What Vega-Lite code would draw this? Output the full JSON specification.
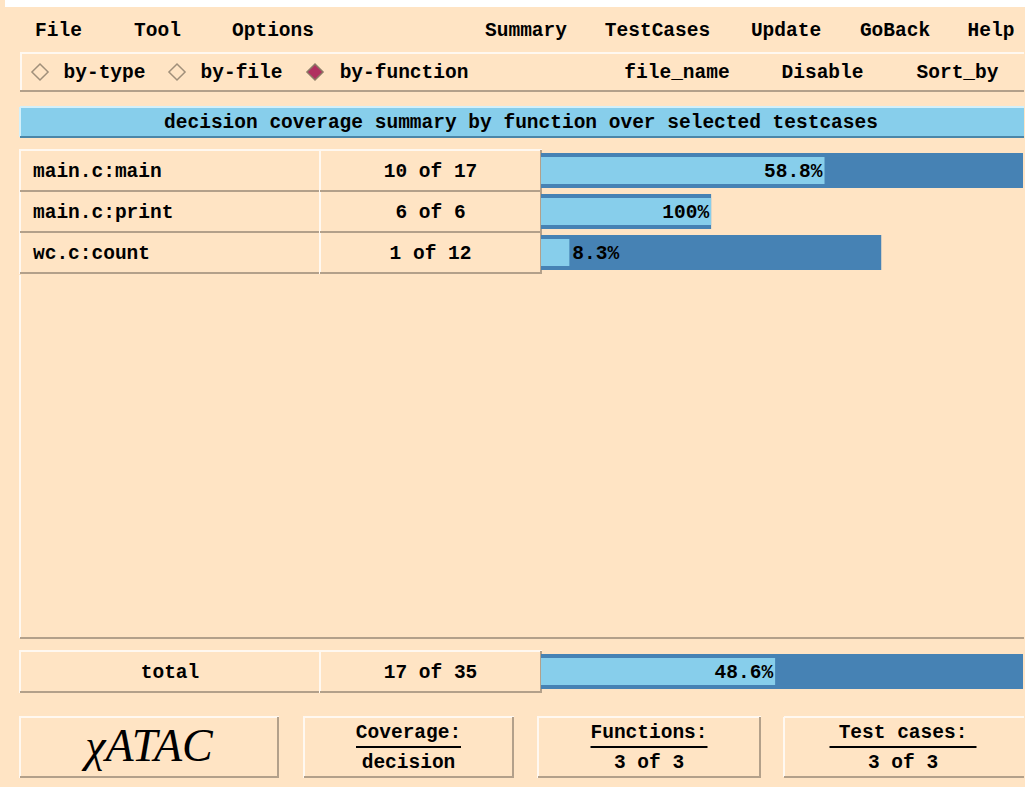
{
  "$schema": "https://vega.github.io/schema/vega-lite/v6.json",
  "background": "#FFE4C4",
  "padding": {"left": 5, "top": 0, "right": 0, "bottom": 9},
  "spacing": 0,
  "config": {
    "view": {"stroke": null},
    "concat": {"spacing": 0},
    "text": {"font": "Liberation Mono", "fontSize": 19.5, "fontWeight": "bold", "color": "#000000"}
  },
  "datasets": {
    "funcs": [
      {"func": "main.c:main", "covered": 10, "total": 17, "ratio": "10 of 17", "pct": "58.8%"},
      {"func": "main.c:print", "covered": 6, "total": 6, "ratio": "6 of 6", "pct": "100%"},
      {"func": "wc.c:count", "covered": 1, "total": 12, "ratio": "1 of 12", "pct": "8.3%"}
    ],
    "total": [
      {"func": "total", "covered": 17, "total": 35, "ratio": "17 of 35", "pct": "48.6%"}
    ]
  },
  "vconcat": [
    {"width": 1020, "height": 7, "data": {"values": []}, "mark": "point", "view": {"fill": "#FFFFFF"}},
    {
      "bounds": "flush",
      "hconcat": [
        {"width": 15, "height": 45, "data": {"values": []}, "mark": "point"},
        {"width": 77, "height": 45, "data": {"values": [{"menu": "File"}]}, "mark": "text", "encoding": {"text": {"field": "menu", "type": "nominal"}}},
        {"width": 121, "height": 45, "data": {"values": [{"menu": "Tool"}]}, "mark": "text", "encoding": {"text": {"field": "menu", "type": "nominal"}}},
        {"width": 110, "height": 45, "data": {"values": [{"menu": "Options"}]}, "mark": "text", "encoding": {"text": {"field": "menu", "type": "nominal"}}},
        {"width": 122, "height": 45, "data": {"values": []}, "mark": "point"},
        {"width": 152, "height": 45, "data": {"values": [{"menu": "Summary"}]}, "mark": "text", "encoding": {"text": {"field": "menu", "type": "nominal"}}},
        {"width": 111, "height": 45, "data": {"values": [{"menu": "TestCases"}]}, "mark": "text", "encoding": {"text": {"field": "menu", "type": "nominal"}}},
        {"width": 146, "height": 45, "data": {"values": [{"menu": "Update"}]}, "mark": "text", "encoding": {"text": {"field": "menu", "type": "nominal"}}},
        {"width": 72, "height": 45, "data": {"values": [{"menu": "GoBack"}]}, "mark": "text", "encoding": {"text": {"field": "menu", "type": "nominal"}}},
        {"width": 29, "height": 45, "data": {"values": []}, "mark": "point"},
        {"width": 62, "height": 45, "data": {"values": [{"menu": "Help"}]}, "mark": "text", "encoding": {"text": {"field": "menu", "type": "nominal"}}}
      ]
    },
    {
      "hconcat": [
        {"width": 15, "height": 40, "data": {"values": []}, "mark": "point"},
        {
          "vconcat": [
            {"width": 1004, "height": 2, "data": {"values": []}, "mark": "point", "view": {"fill": "#FFF8F0"}},
            {
              "bounds": "flush",
              "hconcat": [
                {"width": 2, "height": 36, "data": {"values": []}, "mark": "point", "view": {"fill": "#FFF8F0"}},
                {"width": 10, "height": 36, "data": {"values": []}, "mark": "point"},
                {"width": 16, "height": 36, "data": {"values": [{"mode": "by-type"}]}, "mark": {"type": "point", "shape": "diamond", "size": 260, "filled": true, "fill": "#FFE4C4", "stroke": "#A08F7A", "strokeWidth": 1.5, "opacity": 1}, "encoding": {}},
                {"width": 15, "height": 36, "data": {"values": []}, "mark": "point"},
                {"width": 83, "height": 36, "data": {"values": [{"mode": "by-type"}]}, "mark": "text", "encoding": {"text": {"field": "mode", "type": "nominal"}}},
                {"width": 23, "height": 36, "data": {"values": []}, "mark": "point"},
                {"width": 16, "height": 36, "data": {"values": [{"mode": "by-file"}]}, "mark": {"type": "point", "shape": "diamond", "size": 260, "filled": true, "fill": "#FFE4C4", "stroke": "#A08F7A", "strokeWidth": 1.5, "opacity": 1}, "encoding": {}},
                {"width": 15, "height": 36, "data": {"values": []}, "mark": "point"},
                {"width": 83, "height": 36, "data": {"values": [{"mode": "by-file"}]}, "mark": "text", "encoding": {"text": {"field": "mode", "type": "nominal"}}},
                {"width": 24, "height": 36, "data": {"values": []}, "mark": "point"},
                {"width": 16, "height": 36, "data": {"values": [{"mode": "by-function"}]}, "mark": {"type": "point", "shape": "diamond", "size": 260, "filled": true, "fill": "#B03060", "stroke": "#8C7A66", "strokeWidth": 1.5, "opacity": 1}, "encoding": {}},
                {"width": 15, "height": 36, "data": {"values": []}, "mark": "point"},
                {"width": 132, "height": 36, "data": {"values": [{"mode": "by-function"}]}, "mark": "text", "encoding": {"text": {"field": "mode", "type": "nominal"}}},
                {"width": 154, "height": 36, "data": {"values": []}, "mark": "point"},
                {"width": 106, "height": 36, "data": {"values": [{"button": "file_name"}]}, "mark": "text", "encoding": {"text": {"field": "button", "type": "nominal"}}},
                {"width": 51, "height": 36, "data": {"values": []}, "mark": "point"},
                {"width": 83, "height": 36, "data": {"values": [{"button": "Disable"}]}, "mark": "text", "encoding": {"text": {"field": "button", "type": "nominal"}}},
                {"width": 52, "height": 36, "data": {"values": []}, "mark": "point"},
                {"width": 83, "height": 36, "data": {"values": [{"button": "Sort_by"}]}, "mark": "text", "encoding": {"text": {"field": "button", "type": "nominal"}}},
                {"width": 25, "height": 36, "data": {"values": []}, "mark": "point"}
              ]
            },
            {"width": 1004, "height": 2, "data": {"values": []}, "mark": "point", "view": {"fill": "#B3A08A"}}
          ]
        }
      ]
    },
    {"width": 1017, "height": 14, "data": {"values": []}, "mark": "point"},
    {
      "bounds": "flush",
      "hconcat": [
        {"width": 15, "height": 30, "data": {"values": []}, "mark": "point"},
        {
          "width": 1004, "height": 30, "view": {"fill": "#87CEEB"},
          "layer": [
            {"data": {"values": [{}]}, "mark": {"type": "rect", "fill": "transparent", "stroke": "#D4F0FA", "strokeWidth": 2, "strokeDash": [1004, 1034, 30, 0]}},
            {"data": {"values": [{}]}, "mark": {"type": "rect", "fill": "transparent", "stroke": "#4A86A8", "strokeWidth": 2, "strokeDash": [0, 1034, 1004, 30]}},
            {"data": {"values": [{"title": "decision coverage summary by function over selected testcases"}]}, "mark": {"type": "text", "dx": -1}, "encoding": {"text": {"field": "title", "type": "nominal"}}}
          ]
        }
      ]
    },
    {"width": 1017, "height": 11, "data": {"values": []}, "mark": "point"},
    {
      "bounds": "flush",
      "hconcat": [
        {"width": 15, "height": 123, "data": {"values": []}, "mark": "point"},
        {
          "width": 300, "height": 123, "data": {"name": "funcs"},
          "encoding": {"y": {"field": "func", "type": "nominal", "sort": null, "axis": null, "scale": {"paddingInner": 0, "paddingOuter": 0}}},
          "layer": [
            {"mark": {"type": "rect", "fill": "transparent", "stroke": "#FFF8F0", "strokeWidth": 2}},
            {"mark": {"type": "rect", "fill": "transparent", "stroke": "#B3A08A", "strokeWidth": 2, "strokeDash": [0, 300, 341, 41]}},
            {"mark": {"type": "text", "align": "left", "dx": -137}, "encoding": {"text": {"field": "func", "type": "nominal"}}}
          ]
        },
        {
          "width": 221, "height": 123, "data": {"name": "funcs"},
          "encoding": {"y": {"field": "func", "type": "nominal", "sort": null, "axis": null, "scale": {"paddingInner": 0, "paddingOuter": 0}}},
          "layer": [
            {"mark": {"type": "rect", "fill": "transparent", "stroke": "#FFF8F0", "strokeWidth": 2}},
            {"mark": {"type": "rect", "fill": "transparent", "stroke": "#B3A08A", "strokeWidth": 2, "strokeDash": [0, 221, 262, 41]}},
            {"mark": "text", "encoding": {"text": {"field": "ratio", "type": "nominal"}}}
          ]
        },
        {
          "width": 482, "height": 123, "data": {"name": "funcs"},
          "encoding": {"y": {"field": "func", "type": "nominal", "sort": null, "axis": null, "scale": {"paddingInner": 0.146, "paddingOuter": 0.073}}},
          "layer": [
            {"mark": {"type": "bar", "color": "#4682B4"}, "encoding": {"x": {"field": "total", "type": "quantitative", "axis": null, "scale": {"domain": [0, 17], "nice": false}}}},
            {"mark": {"type": "bar", "color": "#87CEEB", "height": {"band": 0.77}}, "encoding": {"x": {"field": "covered", "type": "quantitative", "axis": null, "scale": {"domain": [0, 17], "nice": false}}}},
            {"transform": [{"filter": "datum.covered >= 3"}], "mark": {"type": "text", "align": "right", "dx": -2}, "encoding": {"x": {"field": "covered", "type": "quantitative", "axis": null, "scale": {"domain": [0, 17], "nice": false}}, "text": {"field": "pct", "type": "nominal"}}},
            {"transform": [{"filter": "datum.covered < 3"}], "mark": {"type": "text", "align": "left", "dx": 3}, "encoding": {"x": {"field": "covered", "type": "quantitative", "axis": null, "scale": {"domain": [0, 17], "nice": false}}, "text": {"field": "pct", "type": "nominal"}}}
          ]
        }
      ]
    },
    {
      "bounds": "flush",
      "hconcat": [
        {"width": 15, "height": 363, "data": {"values": []}, "mark": "point"},
        {
          "width": 1004, "height": 363, "data": {"values": [{}]},
          "layer": [
            {"mark": {"type": "rect", "fill": "transparent", "stroke": "#FFF8F0", "strokeWidth": 2, "strokeDash": [0, 2371, 363, 0]}},
            {"mark": {"type": "rect", "fill": "transparent", "stroke": "#B3A08A", "strokeWidth": 2, "strokeDash": [0, 1367, 1004, 363]}}
          ]
        }
      ]
    },
    {"width": 1017, "height": 11, "data": {"values": []}, "mark": "point"},
    {
      "bounds": "flush",
      "hconcat": [
        {"width": 15, "height": 41, "data": {"values": []}, "mark": "point"},
        {
          "width": 300, "height": 41, "data": {"name": "total"},
          "layer": [
            {"mark": {"type": "rect", "fill": "transparent", "stroke": "#FFF8F0", "strokeWidth": 2}},
            {"mark": {"type": "rect", "fill": "transparent", "stroke": "#B3A08A", "strokeWidth": 2, "strokeDash": [0, 300, 341, 41]}},
            {"mark": "text", "encoding": {"text": {"field": "func", "type": "nominal"}}}
          ]
        },
        {
          "width": 221, "height": 41, "data": {"name": "total"},
          "layer": [
            {"mark": {"type": "rect", "fill": "transparent", "stroke": "#FFF8F0", "strokeWidth": 2}},
            {"mark": {"type": "rect", "fill": "transparent", "stroke": "#B3A08A", "strokeWidth": 2, "strokeDash": [0, 221, 262, 41]}},
            {"mark": "text", "encoding": {"text": {"field": "ratio", "type": "nominal"}}}
          ]
        },
        {
          "width": 482, "height": 41, "data": {"name": "total"},
          "encoding": {"y": {"field": "func", "type": "nominal", "axis": null, "scale": {"paddingInner": 0.146, "paddingOuter": 0.073}}},
          "layer": [
            {"mark": {"type": "bar", "color": "#4682B4"}, "encoding": {"x": {"field": "total", "type": "quantitative", "axis": null, "scale": {"domain": [0, 35], "nice": false}}}},
            {"mark": {"type": "bar", "color": "#87CEEB", "height": {"band": 0.77}}, "encoding": {"x": {"field": "covered", "type": "quantitative", "axis": null, "scale": {"domain": [0, 35], "nice": false}}}},
            {"mark": {"type": "text", "align": "right", "dx": -2}, "encoding": {"x": {"field": "covered", "type": "quantitative", "axis": null, "scale": {"domain": [0, 35], "nice": false}}, "text": {"field": "pct", "type": "nominal"}}}
          ]
        }
      ]
    },
    {"width": 1017, "height": 23, "data": {"values": []}, "mark": "point"},
    {
      "bounds": "flush",
      "hconcat": [
        {"width": 15, "height": 60, "data": {"values": []}, "mark": "point"},
        {
          "width": 258, "height": 60,
          "layer": [
            {"data": {"values": [{}]}, "mark": {"type": "rect", "fill": "transparent", "stroke": "#FFF8F0", "strokeWidth": 2}},
            {"data": {"values": [{}]}, "mark": {"type": "rect", "fill": "transparent", "stroke": "#B3A08A", "strokeWidth": 2, "strokeDash": [0, 258, 318, 60]}},
            {"data": {"values": [{"logo": "χATAC"}]}, "mark": {"type": "text", "font": "Liberation Serif", "fontStyle": "italic", "fontWeight": "normal", "fontSize": 46}, "encoding": {"text": {"field": "logo", "type": "nominal"}}}
          ]
        },
        {"width": 26, "height": 60, "data": {"values": []}, "mark": "point"},
        {
          "width": 209, "height": 60,
          "layer": [
            {"data": {"values": [{}]}, "mark": {"type": "rect", "fill": "transparent", "stroke": "#FFF8F0", "strokeWidth": 2}},
            {"data": {"values": [{}]}, "mark": {"type": "rect", "fill": "transparent", "stroke": "#B3A08A", "strokeWidth": 2, "strokeDash": [0, 209, 269, 60]}},
            {"data": {"values": [{}]}, "mark": {"type": "tick", "orient": "horizontal", "size": 105, "thickness": 2, "color": "#000000", "opacity": 1}, "encoding": {}},
            {"data": {"values": [{"part": "label", "t": "Coverage:"}, {"part": "value", "t": "decision"}]}, "mark": "text", "encoding": {"y": {"field": "part", "type": "nominal", "sort": null, "axis": null, "scale": {"paddingInner": 0, "paddingOuter": 0}}, "text": {"field": "t", "type": "nominal"}}}
          ]
        },
        {"width": 25, "height": 60, "data": {"values": []}, "mark": "point"},
        {
          "width": 222, "height": 60,
          "layer": [
            {"data": {"values": [{}]}, "mark": {"type": "rect", "fill": "transparent", "stroke": "#FFF8F0", "strokeWidth": 2}},
            {"data": {"values": [{}]}, "mark": {"type": "rect", "fill": "transparent", "stroke": "#B3A08A", "strokeWidth": 2, "strokeDash": [0, 222, 282, 60]}},
            {"data": {"values": [{}]}, "mark": {"type": "tick", "orient": "horizontal", "size": 117, "thickness": 2, "color": "#000000", "opacity": 1}, "encoding": {}},
            {"data": {"values": [{"part": "label", "t": "Functions:"}, {"part": "value", "t": "3 of 3"}]}, "mark": "text", "encoding": {"y": {"field": "part", "type": "nominal", "sort": null, "axis": null, "scale": {"paddingInner": 0, "paddingOuter": 0}}, "text": {"field": "t", "type": "nominal"}}}
          ]
        },
        {"width": 24, "height": 60, "data": {"values": []}, "mark": "point"},
        {
          "width": 240, "height": 60,
          "layer": [
            {"data": {"values": [{}]}, "mark": {"type": "rect", "fill": "transparent", "stroke": "#FFF8F0", "strokeWidth": 2, "strokeDash": [240, 300, 60, 0]}},
            {"data": {"values": [{}]}, "mark": {"type": "rect", "fill": "transparent", "stroke": "#B3A08A", "strokeWidth": 2, "strokeDash": [0, 300, 240, 60]}},
            {"data": {"values": [{}]}, "mark": {"type": "tick", "orient": "horizontal", "size": 147, "thickness": 2, "color": "#000000", "opacity": 1, "xOffset": -1}, "encoding": {}},
            {"data": {"values": [{"part": "label", "t": "Test cases:"}, {"part": "value", "t": "3 of 3"}]}, "mark": {"type": "text", "dx": -1}, "encoding": {"y": {"field": "part", "type": "nominal", "sort": null, "axis": null, "scale": {"paddingInner": 0, "paddingOuter": 0}}, "text": {"field": "t", "type": "nominal"}}}
          ]
        }
      ]
    }
  ]
}
